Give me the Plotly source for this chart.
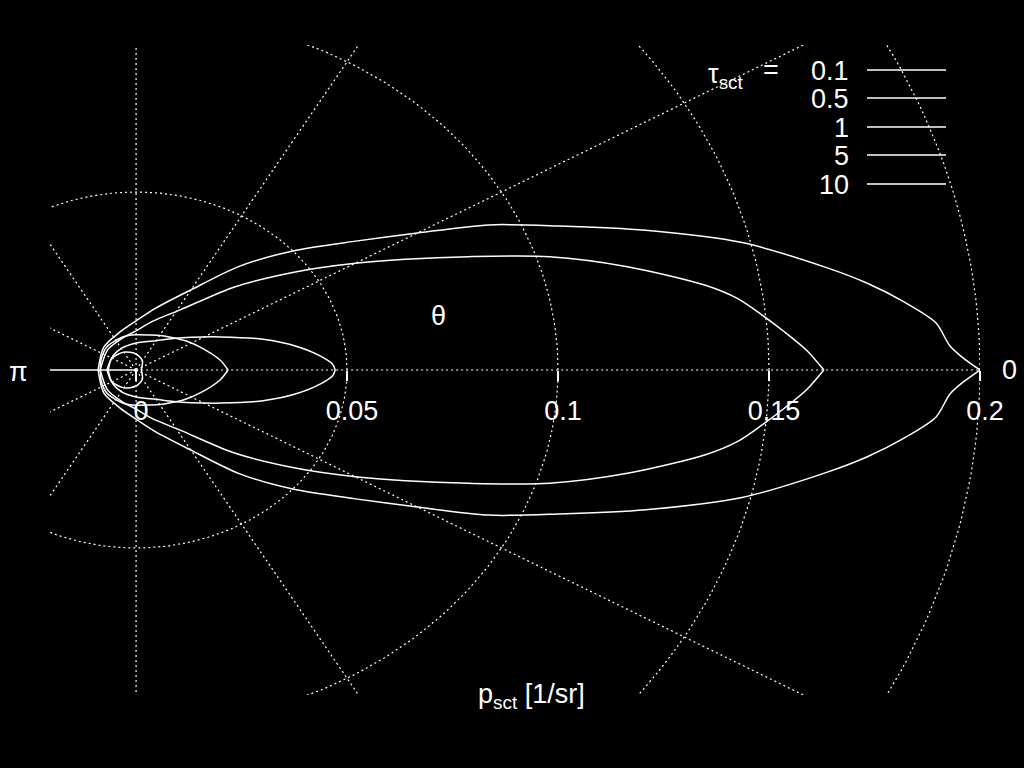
import numpy as np
import plotly.graph_objects as go

# ---------------- data ----------------
tau_labels = ["0.1", "0.5", "1", "5", "10"]

# scattering angle (deg) and p_sct [1/sr] for each curve (upper half; mirrored)
theta_A = [0, 1, 2, 4, 6, 8, 10, 14, 18, 22, 26, 30, 35, 42, 50, 60, 75, 90, 110, 140, 180]
p_A = [0.200, 0.196, 0.193, 0.190, 0.183, 0.175, 0.166, 0.148, 0.127, 0.108, 0.093, 0.077,
       0.063, 0.050, 0.038, 0.026, 0.018, 0.0138, 0.0113, 0.0100, 0.0090]

theta_B = [0, 2, 4, 6, 8, 10, 14, 18, 22, 26, 30, 36, 45, 58, 75, 90, 110, 140, 180]
p_B = [0.163, 0.159, 0.154, 0.149, 0.144, 0.137, 0.120, 0.103, 0.085, 0.071, 0.060, 0.047,
       0.033, 0.020, 0.0140, 0.0110, 0.0095, 0.0088, 0.0085]

theta_C = [0, 2, 5, 10, 16, 25, 35, 45, 60, 75, 90, 120, 150, 180]
p_C = [0.0472, 0.0466, 0.0440, 0.0385, 0.0313, 0.0220, 0.0160, 0.0125, 0.0095, 0.0082,
       0.0076, 0.0070, 0.0067, 0.0066]

theta_D = [0, 8, 23, 35, 46, 60, 71, 90, 108, 137, 160, 180]
p_D = [0.0218, 0.0201, 0.0165, 0.0143, 0.0126, 0.0112, 0.0104, 0.0099, 0.0098, 0.0095,
       0.0088, 0.0085]

theta_E = [0, 30, 60, 90, 120, 150, 180]
p_E = [0.0012, 0.0016, 0.0030, 0.0045, 0.0058, 0.0066, 0.0069]

curves = [(theta_A, p_A), (theta_B, p_B), (theta_C, p_C), (theta_D, p_D), (theta_E, p_E)]

grid_radii = [0.05, 0.1, 0.15, 0.2]
spoke_angles = [0, 30, 60, 90, 120, 150, 210, 240, 270, 300, 330]
tick_vals = [0, 0.05, 0.1, 0.15, 0.2]
tick_text = ["0", "0.05", "0.1", "0.15", "0.2"]

# ---------------- figure ----------------
W, H = 1024, 768
L, R, T, B = 50, 44, 45, 73
XMIN, XMAX = -0.0204, 0.2
YMIN, YMAX = -0.0913, 0.0913

def px2paper(px, py):
    return (px - L) / (W - L - R), (H - B - py) / (H - T - B)

fig = go.Figure()
white = "white"
dotdash = "2px,3px"

# grid circles
phi = np.radians(np.arange(0, 361, 1.0))
for r in grid_radii:
    fig.add_trace(go.Scatter(x=r * np.cos(phi), y=r * np.sin(phi), mode="lines",
                             line=dict(color=white, width=1.2, dash=dotdash),
                             hoverinfo="skip", showlegend=False))
# spokes
for a in spoke_angles:
    ar = np.radians(a)
    fig.add_trace(go.Scatter(x=[0, 0.5 * np.cos(ar)], y=[0, 0.5 * np.sin(ar)], mode="lines",
                             line=dict(color=white, width=1.2, dash=dotdash),
                             hoverinfo="skip", showlegend=False))
# solid axis segment on the backward side
fig.add_trace(go.Scatter(x=[XMIN, 0], y=[0, 0], mode="lines",
                         line=dict(color=white, width=1.5), hoverinfo="skip", showlegend=False))

# curves: upper and lower halves drawn separately so the forward tip stays pointed
for (th, p), lab in zip(curves, tau_labels):
    th = np.radians(np.array(th, float))
    p = np.array(p, float)
    for sgn in (1, -1):
        fig.add_trace(go.Scatter(x=p * np.cos(th), y=sgn * p * np.sin(th), mode="lines",
                                 line=dict(color=white, width=1.5, shape="spline", smoothing=0.8),
                                 name=lab, showlegend=False, hoverinfo="skip"))

FAM = "Liberation Sans, Arial, sans-serif"
font = dict(family=FAM, size=27, color=white)

# legend drawn manually (text left, line right)
leg_y = [70, 98, 127, 155, 184]
shapes = []
annotations = []
for lab, yy in zip(tau_labels, leg_y):
    x0, y0 = px2paper(867, yy)
    x1, _ = px2paper(946, yy)
    shapes.append(dict(type="line", xref="paper", yref="paper", x0=x0, x1=x1, y0=y0, y1=y0,
                       line=dict(color=white, width=1.5)))
    xa, ya = px2paper(851, yy + 1)
    annotations.append(dict(text=lab, xref="paper", yref="paper", x=xa, y=ya,
                            xanchor="right", yanchor="middle", showarrow=False, font=font))

def ann(text, px, py, xanchor="center", size=27):
    xa, ya = px2paper(px, py)
    annotations.append(dict(text=text, xref="paper", yref="paper", x=xa, y=ya,
                            xanchor=xanchor, yanchor="middle", showarrow=False,
                            font=dict(family=FAM, size=size, color=white)))

ann("τ<sub>sct</sub>", 726, 76)
ann("=", 771, 70)
ann("π", 18, 372)
ann("0", 1009, 370)
ann("θ", 438, 316)
ann("p<sub>sct</sub> [1/sr]", 531, 696)

fig.update_layout(
    width=W, height=H, autosize=False,
    margin=dict(l=L, r=R, t=T, b=B),
    paper_bgcolor="black", plot_bgcolor="black",
    xaxis=dict(range=[XMIN, XMAX], showgrid=False, zeroline=False, showline=False,
               anchor="free", position=0.5, ticks="outside", ticklen=10, tickwidth=1.5,
               tickcolor=white, tickvals=tick_vals, ticktext=tick_text, tickfont=font,
               ticklabelstandoff=7, ticklabelshift=5),
    yaxis=dict(range=[YMIN, YMAX], visible=False),
    shapes=shapes, annotations=annotations, showlegend=False,
)

fig.write_html("out.html", config={"displayModeBar": False},
               post_script="document.body.style.margin='0';document.body.style.background='black';")
